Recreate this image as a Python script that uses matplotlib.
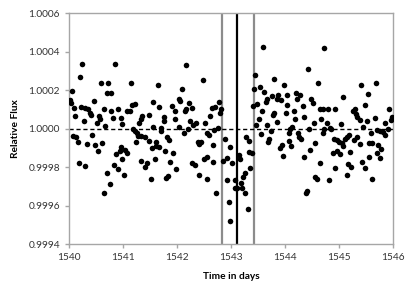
import matplotlib
matplotlib.use("Agg")
import matplotlib.pyplot as plt
import numpy as np

# Time (days) and flux offset in units of 1e-4
time_days = [
    1540.02, 1540.03, 1540.06, 1540.24, 1540.20, 1540.10, 1540.12, 1540.23, 1540.27, 1540.29,
    1540.35, 1540.38, 1540.40, 1540.46, 1540.51, 1540.55, 1540.57, 1540.59, 1540.64, 1540.67,
    1540.73, 1540.71, 1540.78, 1540.86, 1540.77, 1540.82, 1540.90, 1540.97, 1540.98,
    1540.08, 1540.13, 1540.17, 1540.33, 1540.43, 1540.49, 1540.54, 1540.61, 1540.18, 1540.30,
    1540.70, 1540.75, 1540.65, 1540.83, 1540.91, 1540.87, 1540.94, 1540.99, 1541.02, 1540.96,
    # day 1541
    1541.14, 1541.64, 1541.13, 1541.08, 1541.17, 1541.22, 1541.56, 1541.67, 1541.75, 1541.76,
    1541.91, 1541.96, 1542.04, 1541.97, 1541.36, 1541.33, 1541.49, 1541.30, 1541.18, 1541.22,
    1541.25, 1541.28, 1541.34, 1541.40, 1541.55, 1541.71, 1541.70, 1542.03, 1541.48, 1541.24,
    1541.54, 1541.61, 1541.62, 1541.66, 1541.82, 1541.86, 1541.78, 1541.92, 1541.03, 1541.07,
    1541.34, 1541.45, 1541.41, 1541.59, 1541.87, 1541.99, 1541.51, 1541.80, 1541.83,
    # day 1542
    1542.17, 1542.48, 1542.09, 1542.06, 1542.22, 1542.28, 1542.17, 1542.14, 1542.24, 1542.30,
    1542.36, 1542.20, 1542.13, 1542.51, 1542.61, 1542.64, 1542.71, 1542.77, 1542.81, 1542.80,
    1542.56, 1542.59, 1542.69, 1542.76, 1542.39, 1542.44, 1542.41, 1542.66, 1542.89, 1542.98,
    1542.55, 1542.50, 1542.85, 1542.93, 1543.02, 1542.67, 1542.28, 1542.33, 1542.41, 1542.55,
    1542.92, 1542.73, 1542.96, 1542.99,
    # day 1543
    1543.60, 1543.45, 1543.43, 1543.54, 1543.61, 1543.80, 1543.98, 1543.40, 1543.49, 1543.64,
    1543.66, 1543.75, 1543.87, 1543.86, 1543.92, 1544.03, 1543.57, 1543.80, 1543.78, 1543.52,
    1543.85, 1544.01, 1543.47, 1543.67, 1543.74, 1543.56, 1543.71, 1543.68, 1543.94, 1543.91,
    1543.96, 1543.28, 1543.34, 1543.33, 1543.38, 1543.14, 1543.17, 1543.36, 1543.26, 1543.23,
    1543.19, 1543.07, 1543.07, 1543.12, 1543.20, 1543.25, 1543.31,
    # day 1544
    1544.73, 1544.43, 1544.61, 1544.20, 1544.28, 1544.23, 1544.49, 1544.51, 1544.03, 1544.33,
    1544.17, 1544.65, 1544.70, 1544.80, 1544.93, 1544.19, 1544.36, 1544.67, 1544.54, 1544.77,
    1545.03, 1544.13, 1544.10, 1544.45, 1544.73, 1544.83, 1544.86, 1544.71, 1544.07, 1544.24,
    1544.26, 1544.30, 1544.08, 1544.12, 1544.91, 1544.96, 1545.00, 1544.55, 1544.47, 1544.88,
    1544.97, 1545.01, 1544.35, 1544.64, 1544.92, 1544.56, 1544.60, 1544.82, 1544.39, 1544.41,
    # day 1545
    1545.69, 1545.41, 1545.54, 1545.07, 1545.49, 1545.92, 1545.25, 1545.30, 1545.31, 1545.34,
    1545.38, 1545.51, 1545.66, 1545.98, 1545.96, 1545.86, 1545.45, 1545.60, 1545.71, 1545.75,
    1545.81, 1545.86, 1545.91, 1545.06, 1545.08, 1545.11, 1545.15, 1545.19, 1545.27, 1545.33,
    1545.39, 1545.56, 1545.61, 1545.72, 1545.77, 1545.20, 1545.55, 1545.70, 1545.76, 1545.43,
    1545.17, 1545.22, 1545.48, 1545.15, 1545.61,
]
flux_offset = [
    1.48, 1.31, 1.97, 3.35, 2.66, 1.06, 0.65, 1.10, 0.41, 1.06,
    1.03, 0.82, 0.72, 1.45, 0.30, 0.65, 0.51, 2.38, 1.03, 0.13,
    2.38, 1.86, 1.83, 3.35, 0.93, 0.55, 1.00, 0.55, 0.23,
    -0.39, -0.46, -0.70, -0.81, -0.35, -0.84, -1.19, -0.77, -1.81, -1.95,
    -2.33, -2.88, -3.33, -1.91, -2.09, -1.33, -1.15, -1.57, -2.43, -0.94,
    # day 1541
    2.38, 2.28, 0.93, 0.89, 1.20, 1.27, 1.38, 1.10, 0.61, 0.41,
    1.17, 0.89, 1.52, 0.48, 0.65, 0.51, 0.68, 0.27, -0.01, -0.11,
    -0.22, -0.39, -0.39, -0.42, 0.06, 0.03, -0.11, 0.06, -0.63, -0.70,
    -1.01, -0.70, -0.91, -0.98, -0.46, -0.60, -1.19, -1.26, -1.12, -1.29,
    -1.67, -1.78, -2.02, -1.57, -1.74, -2.09, -2.64, -2.57, -2.47,
    # day 1542
    3.28, 2.52, 2.07, 1.41, 1.34, 1.06, 1.00, 0.89, 0.41, 0.20,
    0.27, -0.01, -0.25, 0.30, 0.65, 1.06, 1.10, 1.38, 1.00, 0.79,
    -0.22, -0.35, -0.08, 0.03, -0.70, -0.70, -0.81, -0.84, -0.56, -0.94,
    -1.46, -1.57, -1.67, -1.53, -1.77, -1.74, -1.81, -1.91, -2.40, -2.61,
    -2.68, -3.33, -3.79, -4.80,
    # day 1543
    4.25, 2.76, 2.07, 2.14, 1.90, 2.59, 2.28, 1.17, 1.27, 1.38,
    1.52, 1.69, 1.76, 1.55, 1.48, 1.76, 0.89, 0.82, 0.68, 0.51,
    0.34, 0.82, 0.20, 0.16, -0.11, -0.29, -0.53, -0.70, -0.84, -1.01,
    -1.43, -0.46, -0.63, -1.22, -1.26, -1.36, -1.57, -2.05, -2.33, -2.54,
    -2.85, -2.68, -3.11, -3.11, -3.07, -3.37, -4.20,
    # day 1544
    4.18, 3.11, 2.38, 1.83, 1.72, 1.52, 1.52, 1.31, 1.24, 1.17,
    0.89, 1.00, 1.03, 1.00, 1.00, 0.51, 0.58, 0.51, 0.27, 0.30,
    0.23, 0.06, -0.04, -0.04, -0.04, 0.03, -0.01, -0.22, -0.25, -0.25,
    -0.42, -0.56, -0.63, -0.91, -0.53, -0.60, -0.70, -0.77, -1.12, -1.26,
    -1.15, -1.33, -1.50, -1.77, -2.05, -2.54, -2.61, -2.68, -3.33, -3.26,
    # day 1545
    2.38, 2.24, 1.79, 1.62, 1.20, 1.03, 0.93, 0.99, 0.75, 0.58,
    0.44, 0.37, 0.55, 0.61, 0.44, 0.27, 0.10, -0.25, -0.08, -0.11,
    -0.18, -0.32, -0.01, -0.77, -0.91, -0.56, -0.46, -0.32, -0.60, -0.46,
    -0.81, -0.77, -0.77, -0.87, -1.05, -1.22, -1.46, -1.26, -1.53, -1.74,
    -1.84, -2.02, -2.05, -2.43, -2.61,
]
rel_flux = 1.0 + np.array(flux_offset) * 1e-4

# transit window markers
gray_lines = [1542.83, 1543.42]
center_line = 1543.12

plt.rcParams['font.family'] = ['Lato', 'DejaVu Sans']

fig = plt.figure(figsize=(4.15, 2.93), dpi=100)
ax = fig.add_axes([0.1663, 0.167, 0.7807, 0.7886])

for x in gray_lines:
    ax.axvline(x, color='#8c8c8c', lw=1.6, zorder=1)
ax.axvline(center_line, color='black', lw=1.6, zorder=1)
ax.axhline(1.0, color='black', lw=1.0, ls=(0, (3, 2)), zorder=2)

ax.scatter(time_days, rel_flux, s=16, color='black', linewidths=0, zorder=3)

ax.set_xlim(1540, 1546)
ax.set_ylim(0.9994, 1.0006)
ax.set_xticks(np.arange(1540, 1547, 1))
ax.set_yticks(np.arange(0.9994, 1.00061, 0.0002))
ax.yaxis.set_major_formatter(matplotlib.ticker.FormatStrFormatter('%.4f'))

for s in ax.spines.values():
    s.set_color('#a6a6a6')
    s.set_linewidth(1.0)
ax.tick_params(axis='both', colors='#a6a6a6', length=3, width=1.0,
               labelcolor='#333333', labelsize=7.3)

ax.set_xlabel("Time in days", fontsize=7.3, fontweight='bold', labelpad=7)
ax.set_ylabel("Relative Flux", fontsize=7.3, fontweight='bold', labelpad=6)

fig.savefig("out.png", dpi=100)
